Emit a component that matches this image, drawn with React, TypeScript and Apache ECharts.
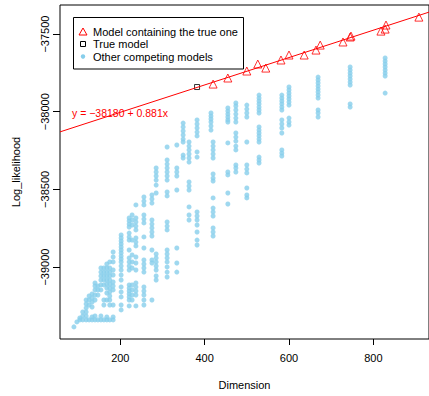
import React, { useEffect, useRef } from "react";
import * as echarts from "echarts";

// ---- data ----
const xTicks = [200, 400, 600, 800];
const yTicks = [-39000, -38500, -38000, -37500];

const containDims = [420, 455, 500, 526, 545, 581, 600, 636, 664, 674, 728, 745, 747, 818, 828, 830, 908];
const containLogLik = [-37822, -37783, -37738, -37693, -37719, -37667, -37635, -37635, -37603, -37571, -37551, -37519, -37513, -37481, -37468, -37442, -37391];

const trueDim = [382];
const trueLogLik = [-37841];

const intercept = -38180;
const slope = 0.881;

const otherDims = [90, 97, 104, 111, 119, 126, 133, 140, 147, 154, 161, 168, 175, 183, 202, 221, 228, 237, 256, 275, 285, 311, 334, 349, 363, 382, 415, 420, 455, 474, 500, 529, 583, 600, 669, 745, 828];
const otherLogLik: number[][] = [
  [-39385],
  [-39353],
  [-39328, -39340],
  [-39340, -39315, -39289],
  [-39340, -39315, -39289, -39263, -39237, -39212],
  [-39340, -39244, -39212, -39186],
  [-39340, -39321, -39257, -39225, -39199, -39173],
  [-39340, -39315, -39212, -39180, -39147, -39122, -39102],
  [-39340, -39180, -39147, -39122],
  [-39340, -39315, -39147, -39115, -39083, -39057, -39032, -39006],
  [-39340, -39244, -39212, -39115, -39083, -39057, -39032, -39006],
  [-39340, -39321, -39212, -39167, -39135, -39109, -39083, -39057, -39032, -39006, -38980],
  [-39340, -39244, -39212, -39186, -39160, -39135, -39109, -39083, -39057, -39032, -39006, -38967],
  [-39340, -39321, -39244, -39147, -39122, -39096, -39051, -39019, -38967, -38935, -38903],
  [-38793, -38813, -38832, -38851, -38871, -38890, -38909, -38929, -38948, -38967, -38993, -39019, -39051, -39083, -39128, -39160, -39192, -39244, -39276],
  [-38684, -38703, -38723, -38742, -38781, -38806, -38826, -38890, -38941, -38967, -38993, -39019, -39115, -39135, -39154, -39173, -39192, -39212, -39250],
  [-38665, -38697, -38729, -38826, -38922, -38967, -39006, -39115, -39147, -39180, -39212],
  [-38600, -38684, -38710, -38736, -38761, -38813, -38839, -38864, -38935, -38974, -39019, -39102, -39128, -39154, -39180, -39250],
  [-38549, -38575, -38600, -38665, -38691, -38716, -38806, -38877, -38954, -38980, -39006, -39032, -39128, -39154, -39180, -39212, -39244],
  [-38536, -38562, -38588, -38697, -38723, -38748, -38774, -38800, -38890, -38954, -38974, -39212],
  [-38362, -38388, -38414, -38440, -38472, -38523, -38916, -38941, -38967, -38993, -39019, -39057, -39083],
  [-38227, -38311, -38337, -38362, -38388, -38414, -38440, -38517, -38542, -38710, -38736, -38761, -38890, -38916, -38941, -38967, -38999, -39032, -39064],
  [-38214, -38362, -38388, -38414, -38504, -38877, -38974, -39032],
  [-38073, -38098, -38124, -38150, -38176, -38195, -38279, -38298],
  [-38195, -38221, -38246, -38272, -38298, -38324, -38452, -38478, -38504, -38613, -38665, -38697],
  [-38053, -38079, -38105, -38131, -38156, -38259, -38292, -38645, -38671, -38697, -38729, -38774, -38826, -38858],
  [-38008, -38028, -38047, -38066, -38092, -38118],
  [-38195, -38221, -38246, -38272, -38298, -38401, -38427, -38446, -38555, -38620, -38645, -38671, -38748, -38774, -38800],
  [-37976, -37996, -38015, -38034, -38053, -38066, -38201, -38388, -38407, -38523, -38594],
  [-37944, -37963, -37989, -38015, -38041, -38066, -38137, -38163, -38189, -38221, -38246, -38343, -38362, -38388],
  [-37957, -37983, -38008, -38034, -38195, -38343, -38369, -38394, -38491, -38536, -38555],
  [-37893, -37912, -37931, -37950, -37970, -37989, -38008, -38098, -38118, -38137, -38156, -38176, -38195, -38292, -38311, -38330],
  [-37893, -37912, -37931, -37950, -37970, -37989, -38053, -38079, -38105, -38137, -38246, -38266, -38285],
  [-37841, -37860, -37880, -37899, -37918, -37938, -37957, -38041, -38066, -38086],
  [-37777, -37796, -37815, -37835, -37854, -37873, -37893, -37912, -37989, -38008, -38034],
  [-37712, -37732, -37751, -37770, -37790, -37809, -37828, -37950, -37970],
  [-37654, -37674, -37693, -37712, -37732, -37751, -37770, -37880],
];

const X_MIN = 57;
const X_MAX = 932;
const Y_MIN = -39463;
const Y_MAX = -37313;

const FONT = "'Liberation Sans', Arial, Helvetica, sans-serif";

export default function App() {
  const ref = useRef<HTMLDivElement>(null);

  useEffect(() => {
    if (!ref.current) return;
    const chart = echarts.init(ref.current, undefined, { renderer: "svg" });

    const others: number[][] = [];
    otherDims.forEach((d, i) => otherLogLik[i].forEach((v) => others.push([d, v])));
    const contain = containDims.map((d, i) => [d, containLogLik[i]]);
    const trueM = trueDim.map((d, i) => [d, trueLogLik[i]]);
    const lineData = [X_MIN, X_MAX].map((x) => [x, intercept + slope * x]);

    const minus = (v: number) => String(v).replace("-", "\u2212");

    chart.setOption({
      animation: false,
      textStyle: { fontFamily: FONT },
      grid: {
        left: 60,
        top: 5,
        right: 0,
        bottom: 57,
        show: true,
        borderColor: "#000",
        borderWidth: 1,
        backgroundColor: "transparent",
      },
      xAxis: {
        type: "value",
        min: X_MIN,
        max: X_MAX,
        name: "Dimension",
        nameLocation: "middle",
        nameGap: 40,
        nameTextStyle: { fontSize: 11, color: "#000", fontFamily: FONT },
        axisLine: { show: false },
        splitLine: { show: false },
        axisTick: { show: true, length: 6, customValues: xTicks, lineStyle: { color: "#000" } },
        axisLabel: { customValues: xTicks, fontSize: 11, color: "#000", margin: 13, fontFamily: FONT },
      },
      yAxis: {
        type: "value",
        min: Y_MIN,
        max: Y_MAX,
        name: "Log_likelihood",
        nameLocation: "middle",
        nameGap: 39,
        nameTextStyle: { fontSize: 11, color: "#000", fontFamily: FONT },
        axisLine: { show: false },
        splitLine: { show: false },
        axisTick: { show: true, length: 7, customValues: yTicks, lineStyle: { color: "#000" } },
        axisLabel: {
          customValues: yTicks,
          rotate: 90,
          fontSize: 11,
          color: "#000",
          margin: 10,
          fontFamily: FONT,
          formatter: (v: number) => minus(v),
        },
      },
      series: [
        {
          name: "Other competing models",
          type: "scatter",
          data: others,
          symbol: "circle",
          symbolSize: 5,
          itemStyle: { color: "#87CEEB" },
          z: 2,
        },
        {
          name: "Model containing the true one",
          type: "scatter",
          data: contain,
          symbol: "triangle",
          symbolSize: 8,
          itemStyle: { color: "rgba(0,0,0,0)", borderColor: "#FF0000", borderWidth: 1 },
          z: 3,
        },
        {
          name: "True model",
          type: "scatter",
          data: trueM,
          symbol: "rect",
          symbolSize: 5,
          itemStyle: { color: "rgba(0,0,0,0)", borderColor: "#000", borderWidth: 1 },
          z: 3,
        },
        {
          name: "Regression",
          type: "line",
          data: lineData,
          symbol: "none",
          lineStyle: { color: "#FF0000", width: 1 },
          z: 4,
        },
      ],
      graphic: [
        {
          type: "text",
          left: 72,
          top: 107,
          style: {
            text: "y = \u221238180 + 0.881x",
            fill: "#FF0000",
            fontSize: 10.5,
            fontFamily: FONT,
          },
          z: 10,
        },
        {
          type: "rect",
          shape: { x: 73.5, y: 17.5, width: 170, height: 51.5 },
          style: { fill: "#fff", stroke: "#000", lineWidth: 1 },
          z: 10,
        },
        {
          type: "polygon",
          shape: { points: [[83, 28], [79, 35], [87, 35]] },
          style: { fill: "none", stroke: "#FF0000", lineWidth: 1 },
          z: 11,
        },
        {
          type: "rect",
          shape: { x: 80.5, y: 41.5, width: 5, height: 5 },
          style: { fill: "none", stroke: "#000", lineWidth: 1 },
          z: 11,
        },
        {
          type: "circle",
          shape: { cx: 83, cy: 56.5, r: 2.2 },
          style: { fill: "#87CEEB" },
          z: 11,
        },
        {
          type: "text",
          x: 93,
          y: 31.5,
          style: { text: "Model containing the true one", fill: "#000", fontSize: 11, fontFamily: FONT, verticalAlign: "middle" },
          z: 11,
        },
        {
          type: "text",
          x: 93,
          y: 44,
          style: { text: "True model", fill: "#000", fontSize: 11, fontFamily: FONT, verticalAlign: "middle" },
          z: 11,
        },
        {
          type: "text",
          x: 93,
          y: 56.5,
          style: { text: "Other competing models", fill: "#000", fontSize: 11, fontFamily: FONT, verticalAlign: "middle" },
          z: 11,
        },
      ],
    });

    return () => chart.dispose();
  }, []);

  return (
    <div
      ref={ref}
      style={{ position: "fixed", left: 0, top: 0, width: 429, height: 396, background: "#fff" }}
    />
  );
}
